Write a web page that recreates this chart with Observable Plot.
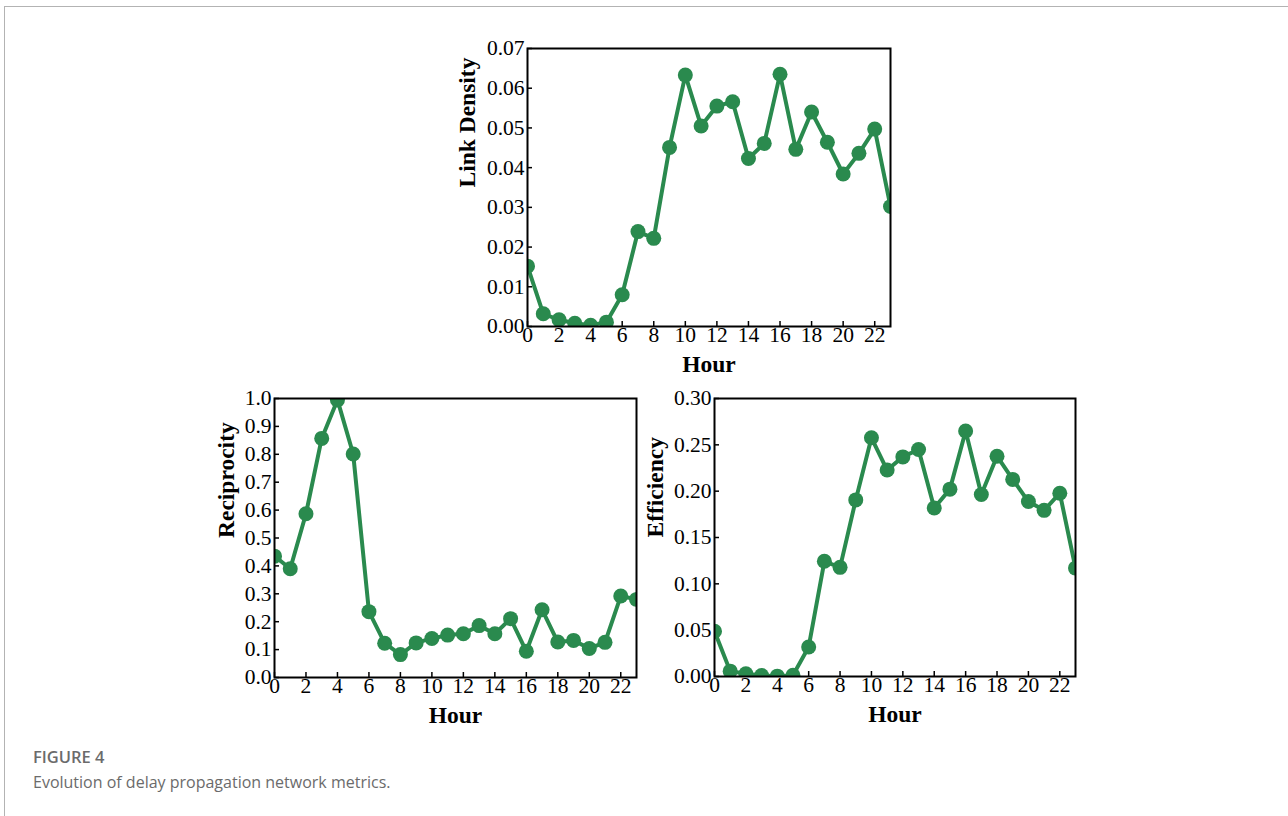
<!DOCTYPE html>
<html><head><meta charset="utf-8">
<script src="https://cdn.jsdelivr.net/npm/d3@7"></script>
<script src="https://cdn.jsdelivr.net/npm/@observablehq/plot@0.6"></script>
<style>
body{margin:0;background:#fff;}
#page{position:relative;width:1288px;height:816px;overflow:hidden;background:#fff;}
#border{position:absolute;left:4px;top:6px;width:1300px;height:830px;border-top:1px solid #b3b3b3;border-left:1px solid #b3b3b3;}
.chart{position:absolute;}
.chart svg{overflow:visible;}
#fig{position:absolute;left:33px;top:745px;font-family:"Open Sans",sans-serif;font-size:16.5px;font-weight:600;color:#6b6b6b;}
#cap{position:absolute;left:33px;top:771px;font-family:"Open Sans",sans-serif;font-size:16px;color:#6b6b6b;}
</style></head>
<body>
<div id="page">
<div id="border"></div>
<div id="c1" class="chart" style="left:427px;top:0px"></div>
<div id="c2" class="chart" style="left:174px;top:370px"></div>
<div id="c3" class="chart" style="left:614px;top:370px"></div>
<div id="fig">FIGURE 4</div>
<div id="cap">Evolution of delay propagation network metrics.</div>
</div>
<script>
const hours = d3.range(0, 24);
const xTicks = [0, 2, 4, 6, 8, 10, 12, 14, 16, 18, 20, 22];
const linkDensity = [0.0152, 0.0032, 0.0017, 0.0008, 0.0003, 0.0011, 0.0080, 0.0239, 0.0222, 0.0451, 0.0633, 0.0505, 0.0555, 0.0566, 0.0423, 0.0461, 0.0635, 0.0446, 0.0540, 0.0464, 0.0384, 0.0436, 0.0497, 0.0302];
const reciprocity = [0.435, 0.390, 0.587, 0.857, 0.995, 0.801, 0.236, 0.123, 0.082, 0.124, 0.140, 0.152, 0.157, 0.186, 0.157, 0.211, 0.094, 0.243, 0.127, 0.133, 0.104, 0.126, 0.292, 0.280];
const efficiency = [0.0489, 0.0058, 0.0029, 0.0011, 0.0004, 0.0014, 0.0319, 0.1243, 0.1178, 0.1906, 0.2576, 0.2228, 0.2370, 0.2449, 0.1819, 0.2022, 0.2649, 0.1964, 0.2377, 0.2127, 0.1888, 0.1793, 0.1978, 0.1170];
const ldTicks = [0, 0.01, 0.02, 0.03, 0.04, 0.05, 0.06, 0.07];
const reTicks = [0, 0.1, 0.2, 0.3, 0.4, 0.5, 0.6, 0.7, 0.8, 0.9, 1.0];
const efTicks = [0, 0.05, 0.10, 0.15, 0.20, 0.25, 0.30];
const green = "#2a8a4e";
const serif = '"Liberation Serif", "Times New Roman", serif';

function chart({values, yTicks, yFormat, yLabel, yLabelOffset, width, height, ml, mr, mt, mb}) {
  const data = hours.map((h, i) => ({hour: h, v: values[i]}));
  return Plot.plot({
    width, height, marginLeft: ml, marginRight: mr, marginTop: mt, marginBottom: mb,
    style: {fontFamily: serif, fontSize: "21.5px", color: "black", background: "transparent"},
    x: {domain: [0, 23]},
    y: {domain: [yTicks[0], yTicks[yTicks.length - 1]]},
    marks: [
      Plot.axisX({ticks: xTicks, tickSize: -5, text: null, label: null, strokeWidth: 1.5}),
      Plot.axisX({ticks: xTicks, tickSize: 0, tickPadding: 0, label: null, fontSize: 21.5}),
      Plot.axisY({ticks: yTicks, tickSize: -5, text: null, label: null, strokeWidth: 1.5}),
      Plot.axisY({ticks: yTicks, tickSize: 0, tickPadding: 3, tickFormat: d3.format(yFormat), label: null, fontSize: 21.5}),
      Plot.line(data, {x: "hour", y: "v", stroke: green, strokeWidth: 4, clip: true}),
      Plot.dot(data, {x: "hour", y: "v", r: 7.5, fill: green, stroke: "none", clip: true}),
      Plot.frame({stroke: "black", strokeWidth: 2}),
      Plot.text(["Hour"], {frameAnchor: "bottom", dy: 45, lineAnchor: "bottom", fontWeight: "bold", fontSize: 23.5, fill: "black"}),
      Plot.text([yLabel], {frameAnchor: "left", dx: -yLabelOffset, rotate: -90, lineAnchor: "top", fontWeight: "bold", fontSize: 23.5, fill: "black"})
    ]
  });
}

document.getElementById("c1").append(chart({values: linkDensity, yTicks: ldTicks, yFormat: ".2f", yLabel: "Link Density", yLabelOffset: 69, width: 483, height: 400, ml: 100, mr: 20, mt: 48, mb: 74}));
document.getElementById("c2").append(chart({values: reciprocity, yTicks: reTicks, yFormat: ".1f", yLabel: "Reciprocity", yLabelOffset: 57, width: 482, height: 376, ml: 100, mr: 20, mt: 28, mb: 69}));
document.getElementById("c3").append(chart({values: efficiency, yTicks: efTicks, yFormat: ".2f", yLabel: "Efficiency", yLabelOffset: 68, width: 481, height: 376, ml: 100, mr: 20, mt: 28, mb: 70}));
</script>
</body></html>
